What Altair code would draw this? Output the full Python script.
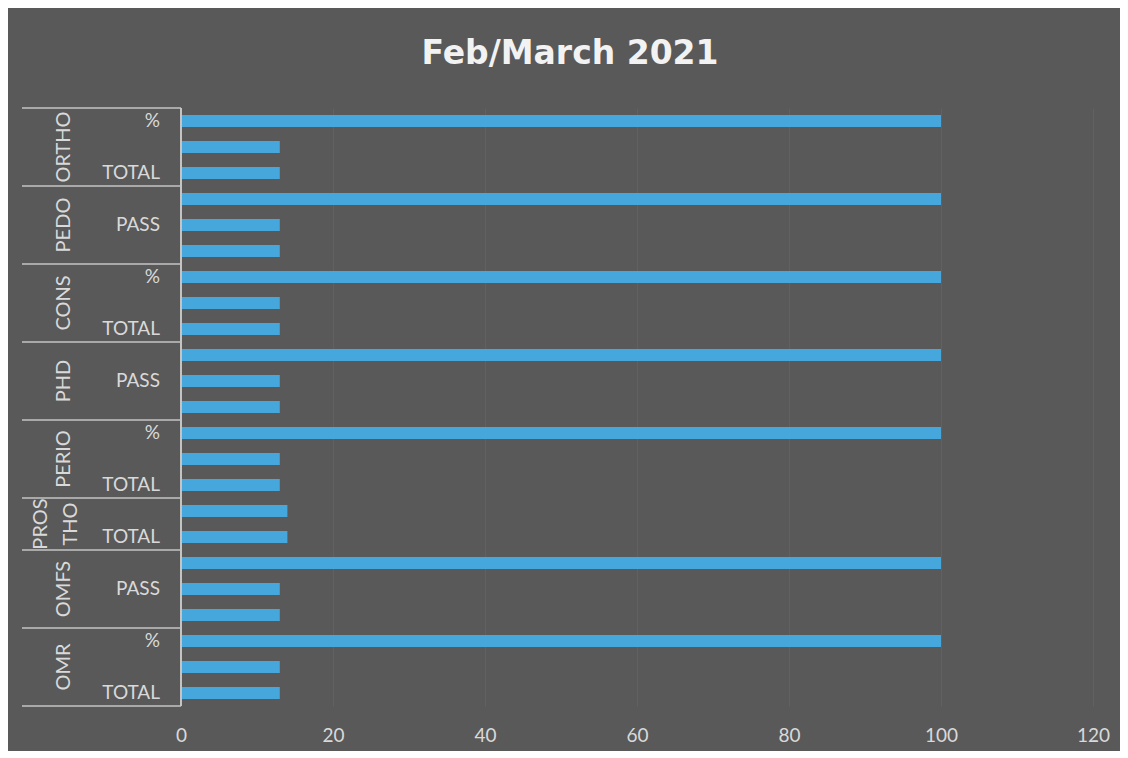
import altair as alt
import pandas as pd

groups = ["ORTHO", "PEDO", "CONS", "PHD", "PERIO", "PROSTHO", "OMFS", "OMR"]
group_text = ["ORTHO", "PEDO", "CONS", "PHD", "PERIO", "PROS|THO", "OMFS", "OMR"]
metrics = ["%", "PASS", "TOTAL"]
pct = [100, 100, 100, 100, 100, None, 100, 100]
passed = [13, 13, 13, 13, 13, 14, 13, 13]
total = [13, 13, 13, 13, 13, 14, 13, 13]

rows = []
glabels = []
bounds = [0]
r = 0
for g, gt, p, s, t in zip(groups, group_text, pct, passed, total):
    start = r
    for m, v in zip(metrics, [p, s, t]):
        if v is None:
            continue
        rows.append({"group": g, "metric": m, "value": v, "row": r, "center": r + 0.5,
                     "label": m if r % 2 == 0 else ""})
        r += 1
    glabels.append({"text": gt, "gcenter": (start + r) / 2})
    bounds.append(r)

df = pd.DataFrame(rows)
gdf = pd.DataFrame(glabels)
bdf = pd.DataFrame({"b": bounds})
nrows = r

W, H = 912, 598
LABEL = "#d9d9d9"
LINE = "#c4c4c4"
FONT = "Lato"

yscale = alt.Scale(domain=[0, nrows], reverse=True, nice=False, zero=False)
xscale = alt.Scale(domain=[0, 120], nice=False)

base = alt.Chart(df)

bars = base.mark_rule(strokeWidth=12, color="#45a7db").encode(
    x=alt.X("value:Q", scale=xscale,
            axis=alt.Axis(values=[0, 20, 40, 60, 80, 100, 120], title=None, grid=True,
                          gridColor="#616161", gridWidth=1, domain=False, ticks=False,
                          labelColor=LABEL, labelFontSize=19, labelFont=FONT,
                          labelPadding=20, labelFlush=False)),
    x2=alt.datum(0),
    y=alt.Y("center:Q", scale=yscale, axis=None),
)

sublabels = base.transform_filter("datum.label != ''").mark_text(
    align="right", baseline="middle", fontSize=19, font=FONT, color=LABEL
).encode(x=alt.value(-21), y=alt.Y("center:Q", scale=yscale), text="label:N")

gl_text = dict(angle=270, align="center", baseline="middle", fontSize=20, font=FONT,
               color=LABEL, lineBreak="|", lineHeight=30)

grouplabels = alt.Chart(gdf).transform_filter("indexof(datum.text, '|') < 0").mark_text(
    **gl_text
).encode(x=alt.value(-117), y=alt.Y("gcenter:Q", scale=yscale), text="text:N")

grouplabels2 = alt.Chart(gdf).transform_filter("indexof(datum.text, '|') >= 0").mark_text(
    **gl_text
).encode(x=alt.value(-140), y=alt.Y("gcenter:Q", scale=yscale), text="text:N")

seps = alt.Chart(bdf).mark_rule(color=LINE, strokeWidth=1.5).encode(
    x=alt.value(-159), x2=alt.value(0), y=alt.Y("b:Q", scale=yscale)
)

yline = alt.Chart(bdf).mark_rule(color=LINE, strokeWidth=1.5).encode(
    x=alt.value(0), y=alt.value(0), y2=alt.value(H)
)

chart = alt.layer(bars, seps, yline, sublabels, grouplabels, grouplabels2).properties(
    width=W, height=H,
    title=alt.Title("Feb/March 2021", fontSize=33, font="DejaVu Sans", fontWeight="bold",
                    color="#f2f2f2", anchor="middle", offset=36, dx=-67),
    autosize=alt.AutoSizeParams(type="none"),
    padding={"left": 173, "top": 100, "right": 27, "bottom": 45},
).configure(background="#595959").configure_view(stroke=None)

chart.save("out.html", embed_options={"renderer": "svg", "actions": False})
